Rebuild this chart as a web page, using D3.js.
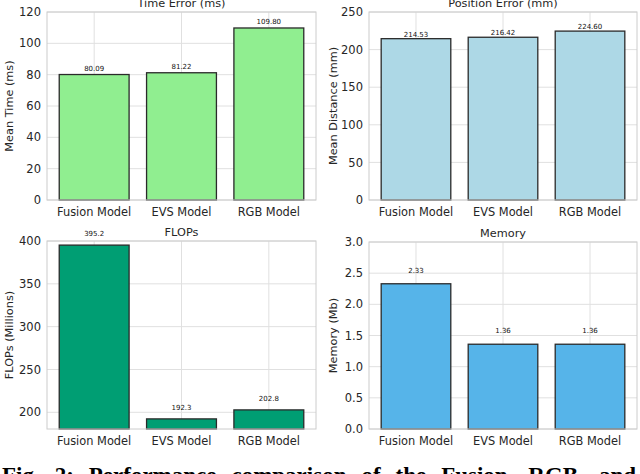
<!DOCTYPE html>
<html>
<head>
<meta charset="utf-8">
<script src="https://cdn.jsdelivr.net/npm/d3@7"></script>
<style>
  body { margin: 0; background: #fff; }
  svg { display: block; font-family: "DejaVu Sans", sans-serif; }
</style>
</head>
<body>
<div class="chart"></div>
<script>
// data
const models = ['Fusion Model', 'EVS Model', 'RGB Model'];
const timeError = [80.09, 81.22, 109.80];
const positionError = [214.53, 216.42, 224.60];
const flops = [395.2, 192.3, 202.8];
const memory = [2.33, 1.36, 1.36];

const timeTicks = [0, 20, 40, 60, 80, 100, 120];
const positionTicks = [0, 50, 100, 150, 200, 250];
const flopsTicks = [200, 250, 300, 350, 400];
const memoryTicks = [0, 0.5, 1.0, 1.5, 2.0, 2.5, 3.0];

const caption = 'Fig. 2: Performance comparison of the Fusion, RGB, and';

const width = 640;
const height = 474;

const svg = d3.select('.chart')
  .append('svg')
  .attr('width', width)
  .attr('height', height);

const panels = [
  {title: 'Time Error (ms)', ylabel: 'Mean Time (ms)', values: timeError, ticks: timeTicks,
   domain: [0, 120], fmt: d3.format('.2f'), tickFmt: d3.format('d'), color: '#90ee90',
   x0: 47, x1: 316, y0: 12, y1: 200, labelX: 9, off: 4},
  {title: 'Position Error (mm)', ylabel: 'Mean Distance (mm)', values: positionError, ticks: positionTicks,
   domain: [0, 250], fmt: d3.format('.2f'), tickFmt: d3.format('d'), color: '#add8e6',
   x0: 369, x1: 637, y0: 12, y1: 200, labelX: 333, off: 2},
  {title: 'FLOPs', ylabel: 'FLOPs (Millions)', values: flops, ticks: flopsTicks,
   domain: [180.5, 400], fmt: d3.format('.1f'), tickFmt: d3.format('d'), color: '#009e73',
   x0: 47, x1: 316, y0: 241, y1: 429, labelX: 9, off: 9},
  {title: 'Memory', ylabel: 'Memory (Mb)', values: memory, ticks: memoryTicks,
   domain: [0, 3], fmt: d3.format('.2f'), tickFmt: d3.format('.1f'), color: '#56b4e9',
   x0: 369, x1: 637, y0: 242, y1: 429, labelX: 333, off: 11},
];

panels.forEach(p => {
  const g = svg.append('g');

  const x = d3.scaleBand()
    .domain(models)
    .range([p.x0, p.x1])
    .paddingInner(0.2)
    .paddingOuter(0.14);

  const y = d3.scaleLinear()
    .domain(p.domain)
    .range([p.y1, p.y0]);

  // grid
  g.selectAll('line.hgrid')
    .data(p.ticks)
    .enter()
    .append('line')
    .attr('x1', p.x0).attr('x2', p.x1)
    .attr('y1', d => y(d)).attr('y2', d => y(d))
    .attr('stroke', '#e0e0e0')
    .attr('stroke-width', 1);

  g.selectAll('line.vgrid')
    .data(models)
    .enter()
    .append('line')
    .attr('x1', d => x(d) + x.bandwidth() / 2)
    .attr('x2', d => x(d) + x.bandwidth() / 2)
    .attr('y1', p.y0).attr('y2', p.y1)
    .attr('stroke', '#e0e0e0')
    .attr('stroke-width', 1);

  // bars
  g.selectAll('rect.bar')
    .data(p.values)
    .enter()
    .append('rect')
    .attr('x', (d, i) => x(models[i]))
    .attr('y', d => y(d))
    .attr('width', x.bandwidth())
    .attr('height', d => p.y1 - y(d))
    .attr('fill', p.color)
    .attr('stroke', '#2a2a2a')
    .attr('stroke-width', 1.3);

  // value labels
  g.selectAll('text.val')
    .data(p.values)
    .enter()
    .append('text')
    .text(d => p.fmt(d))
    .attr('x', (d, i) => x(models[i]) + x.bandwidth() / 2)
    .attr('y', d => y(d) - p.off)
    .attr('text-anchor', 'middle')
    .attr('font-size', 7)
    .attr('fill', '#111');

  // frame
  g.append('rect')
    .attr('x', p.x0).attr('y', p.y0)
    .attr('width', p.x1 - p.x0).attr('height', p.y1 - p.y0)
    .attr('fill', 'none')
    .attr('stroke', '#cccccc')
    .attr('stroke-width', 1);

  // y ticks
  g.selectAll('text.ytick')
    .data(p.ticks)
    .enter()
    .append('text')
    .text(d => p.tickFmt(d))
    .attr('x', p.x0 - 6)
    .attr('y', d => y(d))
    .attr('dy', '0.36em')
    .attr('text-anchor', 'end')
    .attr('font-size', 11.5)
    .attr('fill', '#262626');

  // x ticks
  g.selectAll('text.xtick')
    .data(models)
    .enter()
    .append('text')
    .text(d => d)
    .attr('x', d => x(d) + x.bandwidth() / 2)
    .attr('y', p.y1 + 16)
    .attr('text-anchor', 'middle')
    .attr('font-size', 11.4)
    .attr('fill', '#262626');

  g.append('text')
    .text(p.title)
    .attr('x', (p.x0 + p.x1) / 2)
    .attr('y', p.y0 - 5)
    .attr('text-anchor', 'middle')
    .attr('font-size', 11.3)
    .attr('fill', '#262626');

  g.append('text')
    .text(p.ylabel)
    .attr('transform', `translate(${p.labelX},${(p.y0 + p.y1) / 2}) rotate(-90)`)
    .attr('dy', '0.36em')
    .attr('text-anchor', 'middle')
    .attr('font-size', 11.3)
    .attr('fill', '#262626');
});

// caption, justified and cut off by the page edge
const words = caption.split(' ');
const capLeft = 2, capRight = 636;
const capText = svg.selectAll('text.cap')
  .data(words)
  .enter()
  .append('text')
  .attr('class', 'cap')
  .text(d => d)
  .attr('y', 483)
  .attr('font-family', '"Liberation Serif", serif')
  .attr('font-weight', 'bold')
  .attr('font-size', 23)
  .attr('fill', '#000');

const widths = capText.nodes().map(n => n.getComputedTextLength());
const gap = (capRight - capLeft - d3.sum(widths)) / (words.length - 1);
let cx = capLeft;
capText.attr('x', (d, i) => {
  const pos = cx;
  cx += widths[i] + gap;
  return pos;
});
</script>
</body>
</html>
